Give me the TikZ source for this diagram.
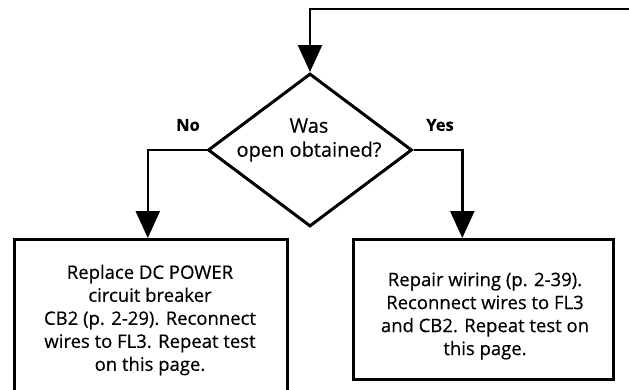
\documentclass[tikz,border=0pt]{standalone}
\usepackage{fontspec}
\setmainfont{Open Sans}[FakeBold=0.4]
\usetikzlibrary{shapes.geometric,arrows.meta,calc}

\tikzset{
  flow/.style={line width=2.6pt, line join=miter},
  arrowline/.style={flow, -{Triangle[width=24pt,length=27pt]}},
  actionbox/.style={draw, line width=2.6pt, inner sep=0pt, anchor=north west},
  boxtext/.style={align=center, font=\fontsize{18.5}{23}\selectfont},
  branch/.style={font=\fontsize{16.5}{18}\selectfont\bfseries},
}

\begin{document}
\begin{tikzpicture}[x=1pt,y=-1pt]
  \useasboundingbox (0,0) rectangle (629,389);
  \clip (0,0) rectangle (629,389);

  % decision
  \node[draw, diamond, line width=3pt, minimum width=204pt, minimum height=153pt,
        inner sep=0pt] (q) at (310,150) {};
  \node[align=center, font=\fontsize{20}{24}\selectfont] (qtext) at (309,140)
       {Was\\open obtained?};

  % actions
  \node[actionbox, minimum width=273pt, minimum height=156pt] (no) at (13,238) {};
  \node[boxtext] (notext) at (150,320)
       {Replace DC POWER\\circuit breaker\\CB2 (p. 2-29). Reconnect\\wires to FL3. Repeat test\\on this page.};

  \node[actionbox, minimum width=260pt, minimum height=140pt] (yes) at (352,238) {};
  \node[boxtext] (yestext) at (485,316)
       {Repair wiring (p. 2-39).\\Reconnect wires to FL3\\and CB2. Repeat test on\\this page.};

  % return path from the right
  \coordinate (loop) at (629,9);
  \draw[arrowline] (loop) -| (q.north);

  % branches
  \draw[arrowline] (q.west) -| ([xshift=-3pt]no.north);
  \draw[arrowline] (q.east) -| ([xshift=-21pt]yes.north);

  \node[branch] (nolabel) at (188,125) {No};
  \node[branch] (yeslabel) at (440,125) {Yes};
\end{tikzpicture}
\end{document}
